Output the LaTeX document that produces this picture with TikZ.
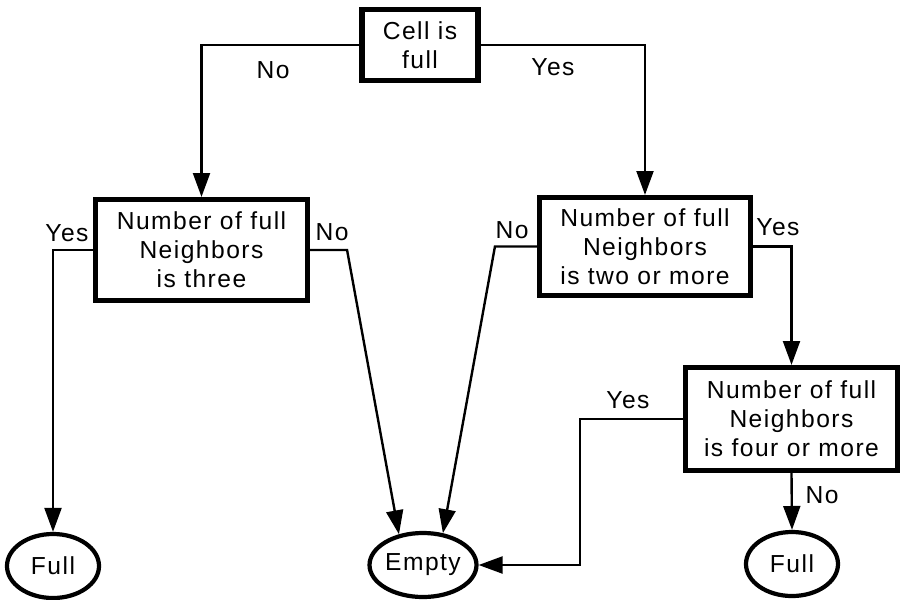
\documentclass[tikz,border=0pt]{standalone}
\usepackage{fontspec}
\setmainfont{Liberation Sans}[LetterSpace=6]
\usepackage{tikz}
\usetikzlibrary{arrows.meta,calc,positioning,shapes.geometric}

\tikzset{
  decision/.style={draw,line width=3.6pt,align=center,inner sep=0pt},
  outcome/.style={draw,ellipse,line width=3pt,inner sep=0pt,minimum width=2.3cm,minimum height=1.6cm},
  flow/.style={line width=1.7pt,-{Triangle[length=17pt,width=12pt]}},
  answer/.style={inner sep=0pt}
}

\begin{document}
\begin{tikzpicture}[x=0.025cm,y=-0.025cm,font=\fontsize{17.5}{20.6}\selectfont]
  \useasboundingbox (0,0) rectangle (901,599);
  % decisions
  \node[decision,minimum width=2.9cm,minimum height=1.775cm] (cell) at (420,45) {Cell is\\full};
  \node[decision,minimum width=5.3cm,minimum height=2.525cm] (three) at (201.5,250) {Number of full\\Neighbors\\is three};
  \node[decision,minimum width=5.275cm,minimum height=2.45cm] (two) at (645,246.5) {Number of full\\Neighbors\\is two or more};
  \node[decision,minimum width=5.3cm,minimum height=2.575cm] (four) at (791.5,419) {Number of full\\Neighbors\\is four or more};
  % outcomes
  \node[outcome] (fullL) at (53,566) {Full};
  \node[outcome] (empty) at (423,565) {Empty};
  \node[outcome] (fullR) at (792,564) {Full};
  % connectors
  \draw[flow] (cell.west) -| (three.north);
  \draw[flow] (cell.east) -| (two.north);
  \draw[flow] (three.west) -| (fullL.north);
  \draw[flow] (three.east) -- ++(37,0) -- (empty.128);
  \draw[flow] (two.west) -- ++(-42,0) -- (empty.58);
  \draw[flow] (two.east) -| (four.north);
  \draw[flow] (four.west) -- ++(-103,0) |- (empty.east);
  \draw[flow] (four.south) -- (fullR.north);
  % answers
  \node[answer] (cellno) at (273,70) {No};
  \node[answer] (cellyes) at (553,67) {Yes};
  \node[answer] (threeyes) at (67,233) {Yes};
  \node[answer] (threeno) at (332,232) {No};
  \node[answer] (twono) at (512,230) {No};
  \node[answer] (twoyes) at (778,227) {Yes};
  \node[answer] (fouryes) at (628,400) {Yes};
  \node[answer] (fourno) at (822,495) {No};
\end{tikzpicture}
\end{document}
